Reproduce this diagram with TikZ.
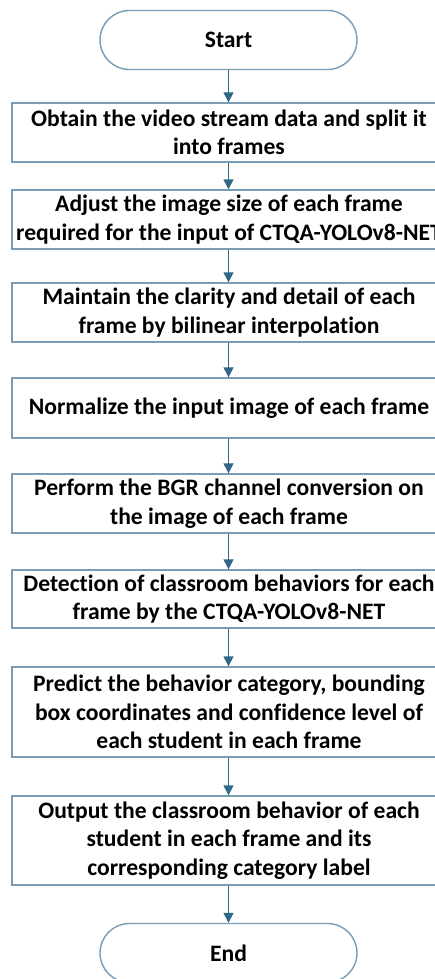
\documentclass[tikz,border=0pt]{standalone}
\usepackage{fontspec}
\setmainfont{Carlito}[Ligatures=NoCommon]
\usetikzlibrary{arrows.meta,shapes.misc}
\definecolor{boxline}{RGB}{122,156,180}
\definecolor{flowline}{RGB}{49,104,136}
\begin{document}
\begin{tikzpicture}[x=1pt,y=-1pt,
  every node/.style={font=\fontsize{23.6}{28.5}\selectfont\bfseries, align=center, inner sep=0pt},
  stepbox/.style={draw=boxline, line width=1.4pt, minimum width=434pt},
  term/.style={draw=boxline, line width=1.4pt, rounded rectangle, minimum width=257pt, minimum height=59pt},
  flow/.style={draw=flowline, line width=1.4pt, -{Triangle[width=10pt,length=10pt]}}]
\useasboundingbox (0,0) rectangle (435,979);
\fill[white] (0,0) rectangle (435,979);
\node[term] (start) at (228.5,40) {Start};
\node[stepbox, minimum height=59pt] (b1) at (229,132.5) {Obtain the video stream data and split it\\into frames};
\node[stepbox, minimum height=59pt] (b2) at (229,219.5) {Adjust the image size of each frame\\required for the input of CTQA-YOLOv8-NET};
\node[stepbox, minimum height=59pt] (b3) at (229,312.5) {Maintain the clarity and detail of each\\frame by bilinear interpolation};
\node[stepbox, minimum height=60pt] (b4) at (229,408) {Normalize the input image of each frame};
\node[stepbox, minimum height=59pt] (b5) at (229,503.5) {Perform the BGR channel conversion on\\the image of each frame};
\node[stepbox, minimum height=58pt] (b6) at (229,599) {Detection of classroom behaviors for each\\frame by the CTQA-YOLOv8-NET};
\node[stepbox, minimum height=90pt] (b7) at (229,712) {Predict the behavior category, bounding\\box coordinates and confidence level of\\each student in each frame};
\node[stepbox, minimum height=89pt] (b8) at (229,840.5) {Output the classroom behavior of each\\student in each frame and its\\corresponding category label};
\node[term] (end) at (228.5,953) {End};
\draw[flow] (start.south) -- (start.south |- b1.north);
\draw[flow] (b1.south -| start.south) -- (start.south |- b2.north);
\draw[flow] (b2.south -| start.south) -- (start.south |- b3.north);
\draw[flow] (b3.south -| start.south) -- (start.south |- b4.north);
\draw[flow] (b4.south -| start.south) -- (start.south |- b5.north);
\draw[flow] (b5.south -| start.south) -- (start.south |- b6.north);
\draw[flow] (b6.south -| start.south) -- (start.south |- b7.north);
\draw[flow] (b7.south -| start.south) -- (start.south |- b8.north);
\draw[flow] (b8.south -| start.south) -- (end.north);
\end{tikzpicture}
\end{document}
